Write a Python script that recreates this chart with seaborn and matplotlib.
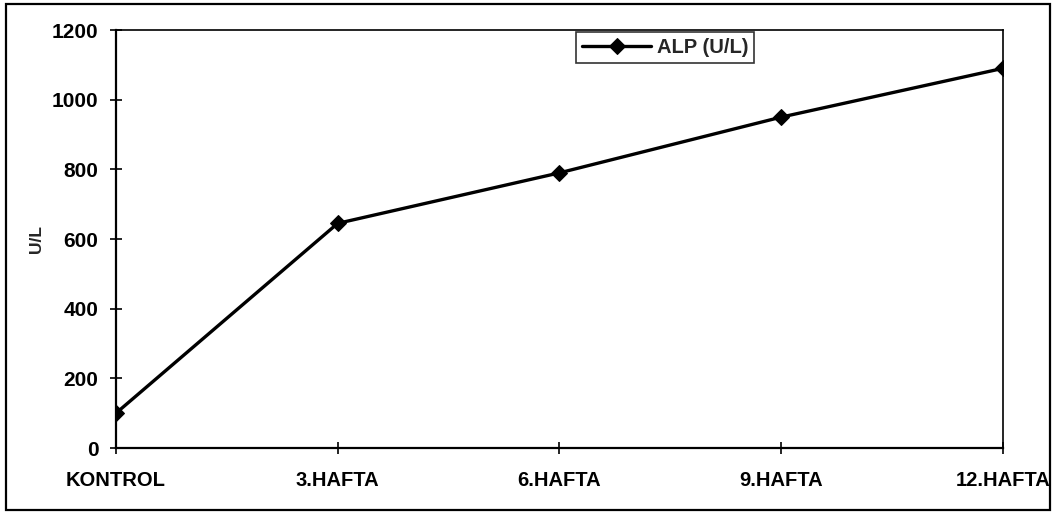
import matplotlib
matplotlib.use("Agg")
import matplotlib.pyplot as plt
import seaborn as sns
import pandas as pd
from matplotlib.patches import Rectangle

# ALP activity over the study period
categories = ["KONTROL", "3.HAFTA", "6.HAFTA", "9.HAFTA", "12.HAFTA"]
alp_values = [100, 645, 790, 950, 1090]
series_name = "ALP (U/L)"
y_ticks = [0, 200, 400, 600, 800, 1000, 1200]

sns.set_theme(style="white")
plt.rcParams["font.family"] = ["Liberation Sans", "DejaVu Sans"]
plt.rcParams["font.weight"] = "bold"

df = pd.DataFrame({"hafta": categories, "alp": alp_values, "seri": series_name})

fig = plt.figure(figsize=(10.54, 5.15), dpi=100)
ax = fig.add_axes([0.110, 0.130, 0.8416, 0.8117])

sns.lineplot(data=df, x="hafta", y="alp", hue="seri", palette=["black"],
             marker="D", markersize=8, linewidth=2.4, markeredgecolor="black",
             sort=False, ax=ax)

ax.set_xlim(0, len(categories) - 1)
ax.set_ylim(0, 1200)
ax.set_yticks(y_ticks)
ax.set_xlabel("")
ax.set_ylabel("U/L", fontsize=12.5, fontweight="bold", labelpad=6)
ax.tick_params(axis="both", direction="inout", length=9, width=1.2,
               colors="black", bottom=True, left=True)
ax.tick_params(axis="y", labelsize=15, pad=8)
ax.tick_params(axis="x", labelsize=14.5, pad=12)
for lbl in ax.get_xticklabels() + ax.get_yticklabels():
    lbl.set_fontweight("bold")

for side in ["left", "bottom"]:
    ax.spines[side].set_linewidth(1.6)
    ax.spines[side].set_color("black")
for side in ["top", "right"]:
    ax.spines[side].set_linewidth(1.2)
    ax.spines[side].set_color("black")

leg = ax.legend(loc="upper left", bbox_to_anchor=(0.519, 0.995), frameon=True,
                fancybox=False, edgecolor="black", fontsize=14.5,
                handlelength=3.4, borderpad=0.3, handletextpad=0.3,
                borderaxespad=0)
leg.get_frame().set_linewidth(1.2)
for t in leg.get_texts():
    t.set_fontweight("bold")

# outer chart frame
fig.patches.append(Rectangle((0.006, 0.01), 0.99, 0.983, transform=fig.transFigure,
                             fill=False, edgecolor="black", linewidth=1.6))

fig.savefig("out.png", dpi=100)
